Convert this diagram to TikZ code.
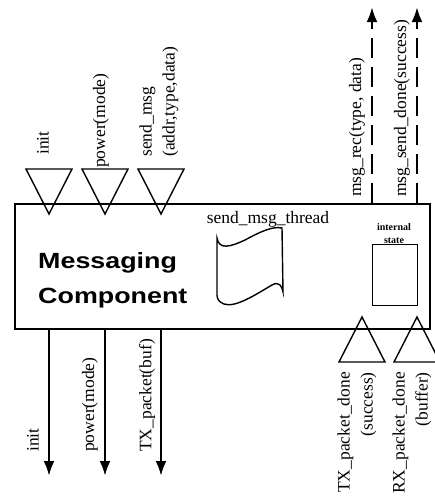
\documentclass[tikz,border=0pt]{standalone}
\usepackage{fontspec}
\setmainfont{Liberation Serif}
\newfontfamily\headfont{Liberation Sans}
\usetikzlibrary{arrows.meta}

\begin{document}
\begin{tikzpicture}[x=1pt, y=-1pt,
    lbl/.style={font=\fontsize{17.5}{23}\selectfont, inner sep=0pt, rotate=90, anchor=west},
    port/.style={line width=1.4pt},
    sigout/.style={line width=2.6pt, -{Latex[length=15pt,width=11pt]}},
    sigup/.style={sigout, dash pattern=on 20pt off 9pt}]
  \useasboundingbox (0,0) rectangle (434,498);
  % Component box
  \node[draw, line width=2pt, minimum width=415pt, minimum height=125pt,
    inner sep=0pt, anchor=north west] (comp) at (14,203) {};
  \node[font=\headfont\bfseries\fontsize{22}{35}\selectfont, xscale=1.22,
    inner sep=0pt, anchor=base west] (title1) at (38,268) {Messaging};
  \node[font=\headfont\bfseries\fontsize{22}{35}\selectfont, xscale=1.22,
    inner sep=0pt, anchor=base west] (title2) at (38,303) {Component};
  % Thread
  \draw[line width=1.4pt] (217,238) .. controls (219,250) and (230,247) .. (245,240)
    .. controls (260,232) and (272,226) .. (282,228) -- (283,292)
    .. controls (282,286) and (279,281) .. (272,285)
    .. controls (255,295) and (235,308) .. (224,304)
    .. controls (219,302) and (217,299) .. (217,295) -- cycle;
  \node[font=\fontsize{17.5}{20}\selectfont, inner sep=0pt, anchor=base]
    (thread) at (268,223) {send\_msg\_thread};
  % Internal state
  \node[draw, line width=1.2pt, minimum width=45pt, minimum height=61pt,
    inner sep=0pt, anchor=north west] (state) at (372,244) {};
  \node[font=\fontsize{10}{12}\selectfont\bfseries, inner sep=0pt, anchor=base]
    (st1) at (394,230) {internal};
  \node[font=\fontsize{10}{12}\selectfont\bfseries, inner sep=0pt, anchor=base]
    (st2) at (394,243) {state};
  % Input ports
  \foreach \x in {49,105,161}{
    \draw[port] (\x-23,169) -- (\x+23,169) -- (\x,214) -- cycle;
  }
  \foreach \x in {362,417}{
    \draw[port] (\x-23,362) -- (\x+23,362) -- (\x,317) -- cycle;
  }
  \node[lbl] (in1) at (43,155) {init};
  \node[lbl] (in2) at (101,168) {power(mode)};
  \node[lbl, align=left] (in3) at (159,157) {send\_msg\\(addr,type,data)};
  \node[lbl, align=right, anchor=east] (in4) at (357,372) {TX\_packet\_done\\(success)};
  \node[lbl, align=right, anchor=east] (in5) at (412,372) {RX\_packet\_done\\(buffer)};
  % Output signals
  \foreach \x/\n in {49/o1,105/o2,161/o3}{
    \coordinate (\n) at (\x,476);
    \draw[sigout] (\n |- comp.south) -- (\n);
  }
  \node[lbl] (out1) at (33,452) {init};
  \node[lbl] (out2) at (90,452) {power(mode)};
  \node[lbl] (out3) at (147,452) {TX\_packet(buf)};
  % Events up
  \foreach \x/\n in {372/u1,417/u2}{
    \coordinate (\n) at (\x,7);
    \draw[sigup] (\n |- comp.north) -- (\n);
  }
  \node[lbl] (ev1) at (357,197) {msg\_rec(type, data)};
  \node[lbl] (ev2) at (402,197) {msg\_send\_done(success)};
\end{tikzpicture}
\end{document}
